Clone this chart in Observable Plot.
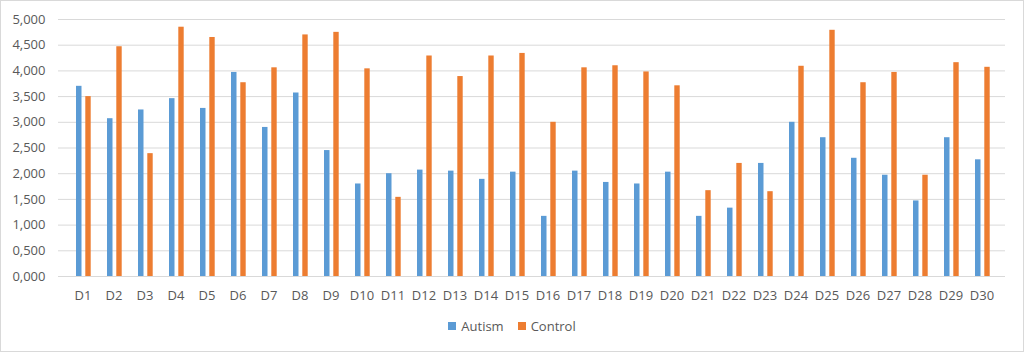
<!DOCTYPE html>
<html>
<head>
<meta charset="utf-8">
<script src="https://cdn.jsdelivr.net/npm/d3@7"></script>
<script src="https://cdn.jsdelivr.net/npm/@observablehq/plot@0.6"></script>
<style>
  html, body { margin: 0; padding: 0; background: #fff; }
  #frame { position: relative; width: 1024px; height: 352px; box-sizing: border-box; border: 1px solid #d9d9d9; background: #fff; overflow: hidden; font-family: "Open Sans", sans-serif; }
  #legend { position: absolute; left: 0; right: 0; top: 316px; display: flex; justify-content: center; align-items: center; gap: 14px; font-size: 13px; color: #595959; }
  .item { display: flex; align-items: center; gap: 5px; }
  .sw { width: 8px; height: 8px; display: inline-block; }
</style>
</head>
<body>
<div id="frame"><div id="chart"></div><div id="legend"></div></div>
<script>
const categories = ["D1","D2","D3","D4","D5","D6","D7","D8","D9","D10","D11","D12","D13","D14","D15","D16","D17","D18","D19","D20","D21","D22","D23","D24","D25","D26","D27","D28","D29","D30"];
const autism = [3.70,3.07,3.24,3.46,3.27,3.97,2.90,3.57,2.45,1.80,2.00,2.07,2.05,1.89,2.03,1.17,2.05,1.83,1.80,2.03,1.17,1.33,2.20,3.00,2.70,2.30,1.97,1.47,2.70,2.27];
const control = [3.50,4.47,2.39,4.85,4.65,3.77,4.06,4.70,4.75,4.04,1.54,4.29,3.89,4.29,4.34,3.00,4.06,4.10,3.98,3.71,1.67,2.20,1.65,4.09,4.79,3.77,3.97,1.97,4.16,4.07];
const seriesNames = ["Autism", "Control"];
const colors = ["#5b9bd5", "#ed7d31"];
const yTicks = [0,0.5,1,1.5,2,2.5,3,3.5,4,4.5,5];

const dataA = categories.map((c, i) => ({cat: c, value: autism[i]}));
const dataC = categories.map((c, i) => ({cat: c, value: control[i]}));
const fmt = d => d3.format(".3f")(d).replace(".", ",");

const chart = Plot.plot({
  width: 1022,
  height: 312,
  marginTop: 18,
  marginBottom: 37,
  marginLeft: 57,
  marginRight: 18,
  style: { fontFamily: "Open Sans, sans-serif", fontSize: "13px", color: "#595959", background: "transparent" },
  x: { domain: categories, padding: 0, label: null, tickSize: 0, tickPadding: 14 },
  y: { domain: [0, 5], ticks: yTicks, tickFormat: fmt, label: null, tickSize: 0, tickPadding: 13 },
  marks: [
    Plot.ruleY(yTicks, { stroke: "#d9d9d9", strokeWidth: 1 }),
    Plot.barY(dataA, { x: "cat", y: "value", fill: colors[0], insetLeft: 9, insetRight: 16.5 }),
    Plot.barY(dataC, { x: "cat", y: "value", fill: colors[1], insetLeft: 18.3, insetRight: 7.3 })
  ]
});
document.getElementById("chart").appendChild(chart);

const legend = document.getElementById("legend");
seriesNames.forEach((n, i) => {
  const it = document.createElement("span");
  it.className = "item";
  const sw = document.createElement("span");
  sw.className = "sw";
  sw.style.background = colors[i];
  const t = document.createElement("span");
  t.textContent = n;
  it.appendChild(sw); it.appendChild(t);
  legend.appendChild(it);
});
</script>
</body>
</html>
